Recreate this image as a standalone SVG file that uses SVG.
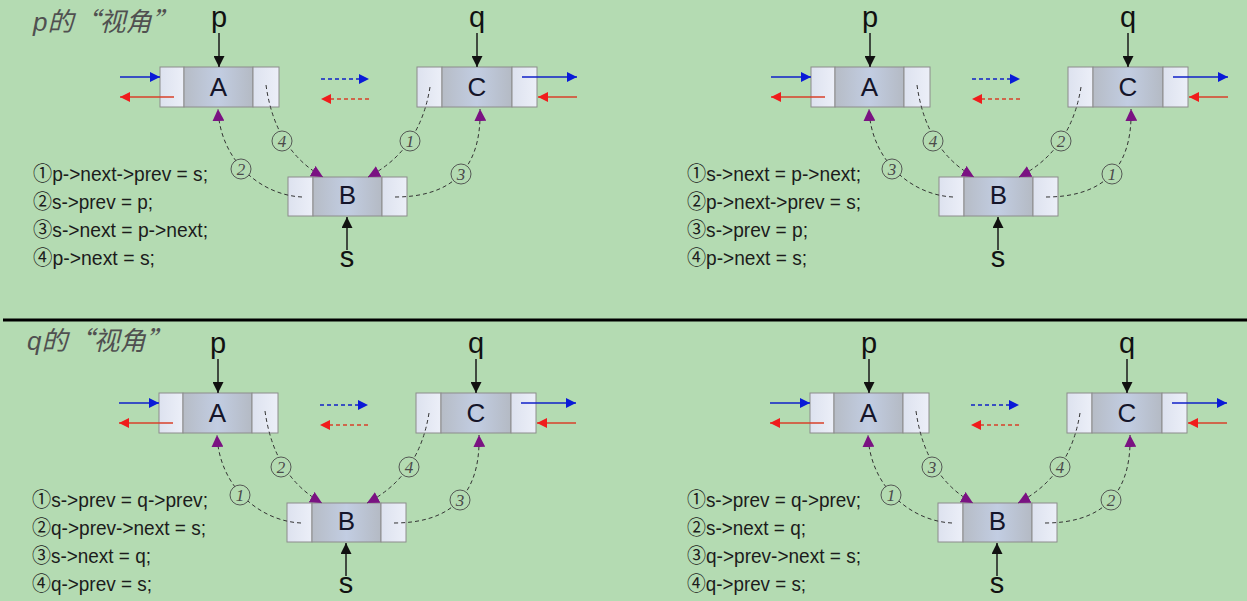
<svg xmlns="http://www.w3.org/2000/svg" width="1247" height="601" viewBox="0 0 1247 601">
<style>
.cell{fill:url(#side);stroke:#8c8c8c;stroke-width:1}
.mid{fill:url(#midg);stroke:#8c8c8c;stroke-width:1}
.nl{font-family:"Liberation Sans",Arial,sans-serif;font-size:26px;fill:#15152a;text-anchor:middle}
.ptr{font-family:"Liberation Sans",Arial,sans-serif;font-size:29px;fill:#111;text-anchor:middle}
.code{font-family:"Liberation Sans","Noto Sans CJK SC",sans-serif;font-size:20.5px;fill:#1c1c1c}
.title{font-family:"Noto Sans CJK SC",sans-serif;font-size:26px;font-style:italic;fill:#505050}
.tl{font-family:"Liberation Sans",sans-serif}
.pl{stroke:#1a1a1a;stroke-width:1.5;fill:none}
.bl{stroke:#1020c8;stroke-width:1.5;fill:none}
.rl{stroke:#d8402a;stroke-width:1.5;fill:none}
.dash{stroke-dasharray:4 3}
.arc{stroke:#333;stroke-width:1;fill:none;stroke-dasharray:4 3}
.lc{fill:#b4dbb2;stroke:#4a4a4a;stroke-width:0.9}
.lt{font-family:"Liberation Serif",serif;font-style:italic;font-size:17px;fill:#4a4a4a;text-anchor:middle}
</style>
<defs>
<linearGradient id="midg" x1="0" y1="0" x2="1" y2="0">
<stop offset="0" stop-color="#b6bcc6"/><stop offset="0.5" stop-color="#c2cde2"/><stop offset="1" stop-color="#b4bac4"/>
</linearGradient>
<linearGradient id="side" x1="0" y1="0" x2="1" y2="0">
<stop offset="0" stop-color="#dde2ef"/><stop offset="1" stop-color="#eceff8"/>
</linearGradient>
<marker id="mk" viewBox="0 0 10 10" refX="10" refY="5" markerWidth="12" markerHeight="11" markerUnits="userSpaceOnUse" orient="auto"><path d="M0,0 L10,5 L0,10 z" fill="#111"/></marker>
<marker id="mb" viewBox="0 0 10 10" refX="10" refY="5" markerWidth="12" markerHeight="10" markerUnits="userSpaceOnUse" orient="auto"><path d="M0,0 L10,5 L0,10 z" fill="#0a1ad8"/></marker>
<marker id="mr" viewBox="0 0 10 10" refX="10" refY="5" markerWidth="12" markerHeight="10" markerUnits="userSpaceOnUse" orient="auto"><path d="M0,0 L10,5 L0,10 z" fill="#f01c1c"/></marker>
<marker id="mp" viewBox="0 0 10 10" refX="10" refY="5" markerWidth="12" markerHeight="12" markerUnits="userSpaceOnUse" orient="auto"><path d="M0,0 L10,5 L0,10 z" fill="#7a1282"/></marker>
</defs>
<rect width="1247" height="601" fill="#b4dbb2"/>
<line x1="3" y1="320" x2="1247" y2="320" stroke="#000" stroke-width="3"/>
<text class="title" x="33" y="31"><tspan class="tl">p</tspan>的“视角”</text>
<text class="title" x="27" y="350"><tspan class="tl">q</tspan>的“视角”</text>

<!-- Panel 1 -->
<g id="panel1">
<g id="p1-A"><rect class="cell" x="160" y="67" width="24" height="40"/><rect class="mid" x="184" y="67" width="69" height="40"/><rect class="cell" x="253" y="67" width="26" height="40"/><text class="nl" x="218.5" y="96">A</text></g>
<g id="p1-C"><rect class="cell" x="417" y="67" width="25" height="40"/><rect class="mid" x="442" y="67" width="70" height="40"/><rect class="cell" x="512" y="67" width="25" height="40"/><text class="nl" x="477" y="96">C</text></g>
<g id="p1-B"><rect class="cell" x="288" y="177" width="25" height="39"/><rect class="mid" x="313" y="177" width="69" height="39"/><rect class="cell" x="382" y="177" width="25" height="39"/><text class="nl" x="347.5" y="204">B</text></g>
<g id="p1-p"><text class="ptr" x="219" y="27">p</text></g>
<g id="p1-q"><text class="ptr" x="477" y="27">q</text></g>
<g id="p1-s"><text class="ptr" x="347" y="267">s</text></g>
<g id="p1-conn">
<path class="pl" d="M219,33 V67" marker-end="url(#mk)"/>
<path class="pl" d="M477,33 V67" marker-end="url(#mk)"/>
<path class="pl" d="M347,250 V217" marker-end="url(#mk)"/>
<path class="bl" d="M120,77 H160" marker-end="url(#mb)"/>
<path class="rl" d="M174,97 H120" marker-end="url(#mr)"/>
<path class="bl dash" d="M321,79 H369" marker-end="url(#mb)"/>
<path class="rl dash" d="M369,99 H321" marker-end="url(#mr)"/>
<path class="bl" d="M522,77 H577" marker-end="url(#mb)"/>
<path class="rl" d="M577,97 H538" marker-end="url(#mr)"/>
<path class="arc" d="M266,85 Q275,150 323,177" marker-end="url(#mp)"/>
<path class="arc" d="M430,87 Q420,150 368,177" marker-end="url(#mp)"/>
<path class="arc" d="M302,197 C260,195 220,160 218,109" marker-end="url(#mp)"/>
<path class="arc" d="M395,197 C445,197 482,175 480,109" marker-end="url(#mp)"/>
<circle class="lc" cx="282" cy="141" r="10"/><text class="lt" x="282" y="147">4</text>
<circle class="lc" cx="410" cy="141" r="10"/><text class="lt" x="410" y="147">1</text>
<circle class="lc" cx="241" cy="169" r="10"/><text class="lt" x="241" y="175">2</text>
<circle class="lc" cx="461" cy="174" r="10"/><text class="lt" x="461" y="180">3</text>
</g>
<g id="p1-code">
<text class="code" x="33" y="181" textLength="175" lengthAdjust="spacingAndGlyphs">①p-&gt;next-&gt;prev = s;</text>
<text class="code" x="33" y="209" textLength="120" lengthAdjust="spacingAndGlyphs">②s-&gt;prev = p;</text>
<text class="code" x="33" y="237" textLength="175" lengthAdjust="spacingAndGlyphs">③s-&gt;next = p-&gt;next;</text>
<text class="code" x="33" y="265" textLength="122" lengthAdjust="spacingAndGlyphs">④p-&gt;next = s;</text>
</g>
</g>

<!-- Panel 2 -->
<g id="panel2" transform="translate(651,0)">
<g id="p2-A"><rect class="cell" x="160" y="67" width="24" height="40"/><rect class="mid" x="184" y="67" width="69" height="40"/><rect class="cell" x="253" y="67" width="26" height="40"/><text class="nl" x="218.5" y="96">A</text></g>
<g id="p2-C"><rect class="cell" x="417" y="67" width="25" height="40"/><rect class="mid" x="442" y="67" width="70" height="40"/><rect class="cell" x="512" y="67" width="25" height="40"/><text class="nl" x="477" y="96">C</text></g>
<g id="p2-B"><rect class="cell" x="288" y="177" width="25" height="39"/><rect class="mid" x="313" y="177" width="69" height="39"/><rect class="cell" x="382" y="177" width="25" height="39"/><text class="nl" x="347.5" y="204">B</text></g>
<g id="p2-p"><text class="ptr" x="219" y="27">p</text></g>
<g id="p2-q"><text class="ptr" x="477" y="27">q</text></g>
<g id="p2-s"><text class="ptr" x="347" y="267">s</text></g>
<g id="p2-conn">
<path class="pl" d="M219,33 V67" marker-end="url(#mk)"/>
<path class="pl" d="M477,33 V67" marker-end="url(#mk)"/>
<path class="pl" d="M347,250 V217" marker-end="url(#mk)"/>
<path class="bl" d="M120,77 H160" marker-end="url(#mb)"/>
<path class="rl" d="M174,97 H120" marker-end="url(#mr)"/>
<path class="bl dash" d="M321,79 H369" marker-end="url(#mb)"/>
<path class="rl dash" d="M369,99 H321" marker-end="url(#mr)"/>
<path class="bl" d="M522,77 H577" marker-end="url(#mb)"/>
<path class="rl" d="M577,97 H538" marker-end="url(#mr)"/>
<path class="arc" d="M266,85 Q275,150 323,177" marker-end="url(#mp)"/>
<path class="arc" d="M430,87 Q420,150 368,177" marker-end="url(#mp)"/>
<path class="arc" d="M302,197 C260,195 220,160 218,109" marker-end="url(#mp)"/>
<path class="arc" d="M395,197 C445,197 482,175 480,109" marker-end="url(#mp)"/>
<circle class="lc" cx="282" cy="141" r="10"/><text class="lt" x="282" y="147">4</text>
<circle class="lc" cx="410" cy="141" r="10"/><text class="lt" x="410" y="147">2</text>
<circle class="lc" cx="241" cy="169" r="10"/><text class="lt" x="241" y="175">3</text>
<circle class="lc" cx="461" cy="174" r="10"/><text class="lt" x="461" y="180">1</text>
</g>
<g id="p2-code">
<text class="code" x="36" y="181" textLength="174" lengthAdjust="spacingAndGlyphs">①s-&gt;next = p-&gt;next;</text>
<text class="code" x="36" y="209" textLength="174" lengthAdjust="spacingAndGlyphs">②p-&gt;next-&gt;prev = s;</text>
<text class="code" x="36" y="237" textLength="121" lengthAdjust="spacingAndGlyphs">③s-&gt;prev = p;</text>
<text class="code" x="36" y="265" textLength="120" lengthAdjust="spacingAndGlyphs">④p-&gt;next = s;</text>
</g>
</g>

<!-- Panel 3 -->
<g id="panel3" transform="translate(-1,326)">
<g id="p3-A"><rect class="cell" x="160" y="67" width="24" height="40"/><rect class="mid" x="184" y="67" width="69" height="40"/><rect class="cell" x="253" y="67" width="26" height="40"/><text class="nl" x="218.5" y="96">A</text></g>
<g id="p3-C"><rect class="cell" x="417" y="67" width="25" height="40"/><rect class="mid" x="442" y="67" width="70" height="40"/><rect class="cell" x="512" y="67" width="25" height="40"/><text class="nl" x="477" y="96">C</text></g>
<g id="p3-B"><rect class="cell" x="288" y="177" width="25" height="39"/><rect class="mid" x="313" y="177" width="69" height="39"/><rect class="cell" x="382" y="177" width="25" height="39"/><text class="nl" x="347.5" y="204">B</text></g>
<g id="p3-p"><text class="ptr" x="219" y="27">p</text></g>
<g id="p3-q"><text class="ptr" x="477" y="27">q</text></g>
<g id="p3-s"><text class="ptr" x="347" y="267">s</text></g>
<g id="p3-conn">
<path class="pl" d="M219,33 V67" marker-end="url(#mk)"/>
<path class="pl" d="M477,33 V67" marker-end="url(#mk)"/>
<path class="pl" d="M347,250 V217" marker-end="url(#mk)"/>
<path class="bl" d="M120,77 H160" marker-end="url(#mb)"/>
<path class="rl" d="M174,97 H120" marker-end="url(#mr)"/>
<path class="bl dash" d="M321,79 H369" marker-end="url(#mb)"/>
<path class="rl dash" d="M369,99 H321" marker-end="url(#mr)"/>
<path class="bl" d="M522,77 H577" marker-end="url(#mb)"/>
<path class="rl" d="M577,97 H538" marker-end="url(#mr)"/>
<path class="arc" d="M266,85 Q275,150 323,177" marker-end="url(#mp)"/>
<path class="arc" d="M430,87 Q420,150 368,177" marker-end="url(#mp)"/>
<path class="arc" d="M302,197 C260,195 220,160 218,109" marker-end="url(#mp)"/>
<path class="arc" d="M395,197 C445,197 482,175 480,109" marker-end="url(#mp)"/>
<circle class="lc" cx="282" cy="141" r="10"/><text class="lt" x="282" y="147">2</text>
<circle class="lc" cx="410" cy="141" r="10"/><text class="lt" x="410" y="147">4</text>
<circle class="lc" cx="241" cy="169" r="10"/><text class="lt" x="241" y="175">1</text>
<circle class="lc" cx="461" cy="174" r="10"/><text class="lt" x="461" y="180">3</text>
</g>
<g id="p3-code">
<text class="code" x="33" y="181" textLength="176" lengthAdjust="spacingAndGlyphs">①s-&gt;prev = q-&gt;prev;</text>
<text class="code" x="33" y="209" textLength="174" lengthAdjust="spacingAndGlyphs">②q-&gt;prev-&gt;next = s;</text>
<text class="code" x="33" y="237" textLength="119" lengthAdjust="spacingAndGlyphs">③s-&gt;next = q;</text>
<text class="code" x="33" y="265" textLength="120" lengthAdjust="spacingAndGlyphs">④q-&gt;prev = s;</text>
</g>
</g>

<!-- Panel 4 -->
<g id="panel4" transform="translate(650,326)">
<g id="p4-A"><rect class="cell" x="160" y="67" width="24" height="40"/><rect class="mid" x="184" y="67" width="69" height="40"/><rect class="cell" x="253" y="67" width="26" height="40"/><text class="nl" x="218.5" y="96">A</text></g>
<g id="p4-C"><rect class="cell" x="417" y="67" width="25" height="40"/><rect class="mid" x="442" y="67" width="70" height="40"/><rect class="cell" x="512" y="67" width="25" height="40"/><text class="nl" x="477" y="96">C</text></g>
<g id="p4-B"><rect class="cell" x="288" y="177" width="25" height="39"/><rect class="mid" x="313" y="177" width="69" height="39"/><rect class="cell" x="382" y="177" width="25" height="39"/><text class="nl" x="347.5" y="204">B</text></g>
<g id="p4-p"><text class="ptr" x="219" y="27">p</text></g>
<g id="p4-q"><text class="ptr" x="477" y="27">q</text></g>
<g id="p4-s"><text class="ptr" x="347" y="267">s</text></g>
<g id="p4-conn">
<path class="pl" d="M219,33 V67" marker-end="url(#mk)"/>
<path class="pl" d="M477,33 V67" marker-end="url(#mk)"/>
<path class="pl" d="M347,250 V217" marker-end="url(#mk)"/>
<path class="bl" d="M120,77 H160" marker-end="url(#mb)"/>
<path class="rl" d="M174,97 H120" marker-end="url(#mr)"/>
<path class="bl dash" d="M321,79 H369" marker-end="url(#mb)"/>
<path class="rl dash" d="M369,99 H321" marker-end="url(#mr)"/>
<path class="bl" d="M522,77 H577" marker-end="url(#mb)"/>
<path class="rl" d="M577,97 H538" marker-end="url(#mr)"/>
<path class="arc" d="M266,85 Q275,150 323,177" marker-end="url(#mp)"/>
<path class="arc" d="M430,87 Q420,150 368,177" marker-end="url(#mp)"/>
<path class="arc" d="M302,197 C260,195 220,160 218,109" marker-end="url(#mp)"/>
<path class="arc" d="M395,197 C445,197 482,175 480,109" marker-end="url(#mp)"/>
<circle class="lc" cx="282" cy="141" r="10"/><text class="lt" x="282" y="147">3</text>
<circle class="lc" cx="410" cy="141" r="10"/><text class="lt" x="410" y="147">4</text>
<circle class="lc" cx="241" cy="169" r="10"/><text class="lt" x="241" y="175">1</text>
<circle class="lc" cx="461" cy="174" r="10"/><text class="lt" x="461" y="180">2</text>
</g>
<g id="p4-code">
<text class="code" x="37" y="181" textLength="174" lengthAdjust="spacingAndGlyphs">①s-&gt;prev = q-&gt;prev;</text>
<text class="code" x="37" y="209" textLength="119" lengthAdjust="spacingAndGlyphs">②s-&gt;next = q;</text>
<text class="code" x="37" y="237" textLength="174" lengthAdjust="spacingAndGlyphs">③q-&gt;prev-&gt;next = s;</text>
<text class="code" x="37" y="265" textLength="119" lengthAdjust="spacingAndGlyphs">④q-&gt;prev = s;</text>
</g>
</g>
</svg>
